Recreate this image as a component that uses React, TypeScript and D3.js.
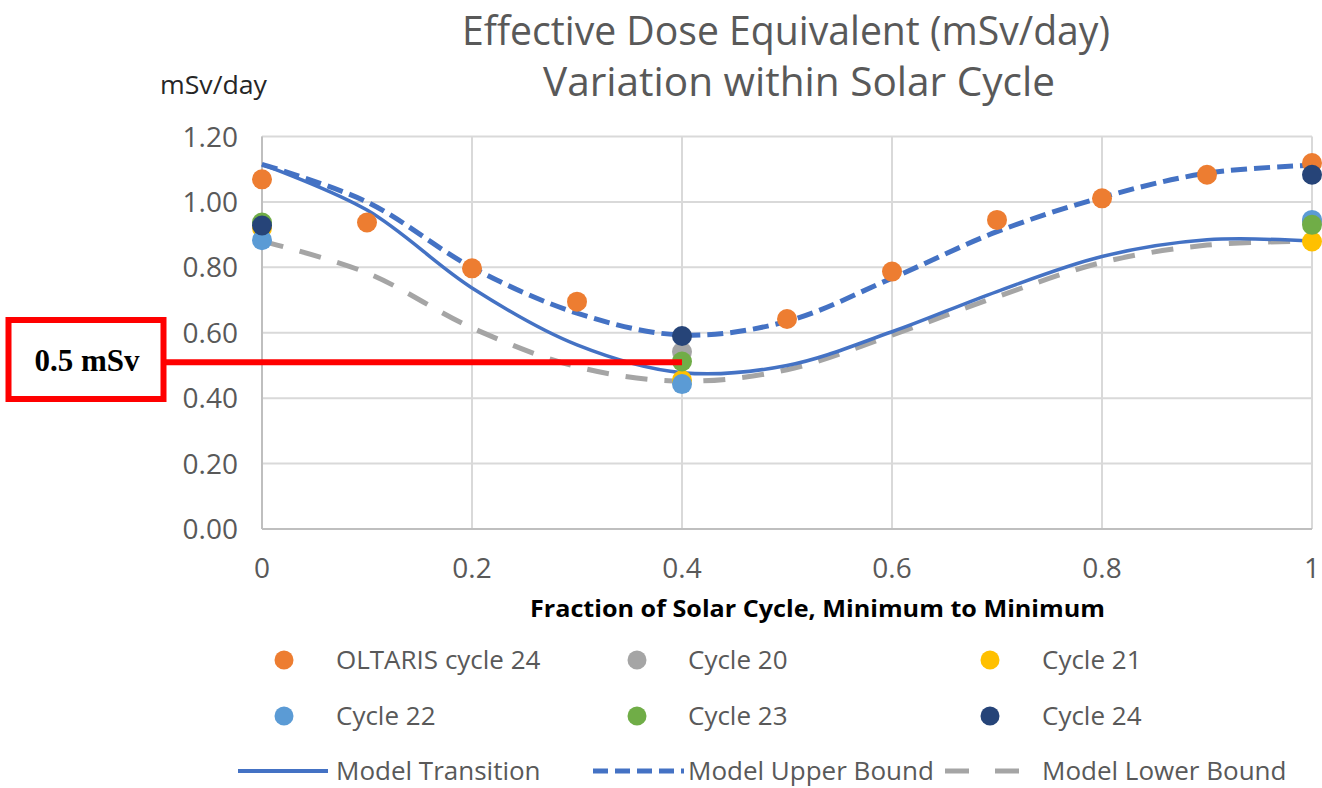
import React from "react";
import * as d3 from "d3";

// ---------- data ----------
const TITLE_1 = "Effective Dose Equivalent (mSv/day)";
const TITLE_2 = "Variation within Solar Cycle";
const Y_UNIT = "mSv/day";
const X_TITLE = "Fraction of Solar Cycle, Minimum to Minimum";

const yTicks = [0, 0.2, 0.4, 0.6, 0.8, 1.0, 1.2];
const xTicks = [0, 0.2, 0.4, 0.6, 0.8, 1];
const xTickLabels = ["0", "0.2", "0.4", "0.6", "0.8", "1"];

// model curves
const modelX = [0, 0.1, 0.2, 0.3, 0.4, 0.5, 0.6, 0.7, 0.8, 0.9, 1.0];
const modelTransition = [1.115, 0.975, 0.737, 0.563, 0.478, 0.5, 0.603, 0.726, 0.833, 0.884, 0.88];
const modelUpper = [1.115, 1.0, 0.8, 0.66, 0.593, 0.635, 0.767, 0.909, 1.014, 1.088, 1.112];
const modelLower = [0.88, 0.783, 0.615, 0.496, 0.452, 0.487, 0.593, 0.71, 0.815, 0.868, 0.88];

// scatter series
const oltarisX = [0, 0.1, 0.2, 0.3, 0.5, 0.6, 0.7, 0.8, 0.9, 1.0];
const oltarisY = [1.069, 0.937, 0.797, 0.695, 0.642, 0.787, 0.945, 1.011, 1.083, 1.119];
const cycleX = [0, 0.4, 1.0];
const cycle20 = [0.93, 0.542, 0.94];
const cycle21 = [0.92, 0.455, 0.879];
const cycle22 = [0.883, 0.443, 0.945];
const cycle23 = [0.937, 0.512, 0.93];
const cycle24 = [0.928, 0.59, 1.083];

// annotation
const annotationLabel = "0.5 mSv";
const annotationX = 0.4;
const annotationY = 0.51;

const COLORS = {
  orange: "#ED7D31",
  gray: "#A5A5A5",
  yellow: "#FFC000",
  lightBlue: "#5B9BD5",
  green: "#70AD47",
  navy: "#264478",
  blue: "#4472C4",
  grayLine: "#A5A5A5",
};

const scatterSeries = [
  { name: "OLTARIS cycle 24", xs: oltarisX, ys: oltarisY, color: COLORS.orange },
  { name: "Cycle 20", xs: cycleX, ys: cycle20, color: COLORS.gray },
  { name: "Cycle 21", xs: cycleX, ys: cycle21, color: COLORS.yellow },
  { name: "Cycle 22", xs: cycleX, ys: cycle22, color: COLORS.lightBlue },
  { name: "Cycle 23", xs: cycleX, ys: cycle23, color: COLORS.green },
  { name: "Cycle 24", xs: cycleX, ys: cycle24, color: COLORS.navy },
];

const lineSeries = [
  { name: "Model Transition", ys: modelTransition, color: COLORS.blue, width: 3.5, dash: "none" },
  { name: "Model Upper Bound", ys: modelUpper, color: COLORS.blue, width: 5, dash: "16,7" },
  { name: "Model Lower Bound", ys: modelLower, color: COLORS.grayLine, width: 5, dash: "22,17" },
];

const FONT = "'Open Sans', 'Noto Sans', sans-serif";
const TXT = "#595959";

export default function App() {
  const x = d3.scaleLinear().domain([0, 1]).range([262, 1312]);
  const y = d3.scaleLinear().domain([0, 1.2]).range([529, 136.5]);

  const line = d3
    .line<number>()
    .x((_, i) => x(modelX[i]))
    .y((d) => y(d))
    .curve(d3.curveCatmullRom.alpha(0.5));

  const gridX = d3.range(0, 1.0001, 0.2);

  // legend layout
  const colX = [284, 637, 990];
  const textX = [336, 688, 1042];
  const rowY = [660, 716, 771];

  // annotation box
  const box = { x: 8.5, y: 320, w: 155, h: 79 };

  return (
    <svg
      width={1322}
      height={788}
      style={{ position: "absolute", left: 0, top: 0, background: "#fff" }}
      fontFamily={FONT}
    >
      <rect x={0} y={0} width={1322} height={788} fill="#fff" />
      {/* Title */}
      <text x={462} y={45} fontSize={41} fill={TXT} textLength={648} lengthAdjust="spacingAndGlyphs">
        {TITLE_1}
      </text>
      <text x={543} y={96} fontSize={41} fill={TXT} textLength={512} lengthAdjust="spacingAndGlyphs">
        {TITLE_2}
      </text>
      <text x={160} y={94} fontSize={26} fill="#262626" textLength={107} lengthAdjust="spacingAndGlyphs">
        {Y_UNIT}
      </text>

      {/* Gridlines */}
      {yTicks.map((t) => (
        <line key={"gy" + t} x1={x(0)} x2={x(1)} y1={y(t)} y2={y(t)} stroke="#D9D9D9" strokeWidth={2} />
      ))}
      {gridX.map((t) => (
        <line key={"gx" + t} x1={x(t)} x2={x(t)} y1={y(0)} y2={y(1.2)} stroke="#D9D9D9" strokeWidth={2} />
      ))}
      <line x1={x(0)} x2={x(1)} y1={y(0)} y2={y(0)} stroke="#BFBFBF" strokeWidth={2} />
      <line x1={x(0)} x2={x(0)} y1={y(0)} y2={y(1.2)} stroke="#BFBFBF" strokeWidth={2} />

      {/* Y tick labels */}
      {yTicks.map((t) => (
        <text key={"yl" + t} x={238} y={y(t) + 10} fontSize={28} fill={TXT} textAnchor="end">
          {t.toFixed(2)}
        </text>
      ))}
      {/* X tick labels */}
      {xTicks.map((t, i) => (
        <text key={"xl" + t} x={x(t)} y={578} fontSize={28} fill={TXT} textAnchor="middle">
          {xTickLabels[i]}
        </text>
      ))}
      <text x={530} y={617} fontSize={23} fontWeight="bold" fill="#000" textLength={575} lengthAdjust="spacingAndGlyphs">
        {X_TITLE}
      </text>

      {/* Model lines */}
      {[lineSeries[2], lineSeries[1], lineSeries[0]].map((s) => (
        <path
          key={s.name}
          d={line(s.ys) || ""}
          fill="none"
          stroke={s.color}
          strokeWidth={s.width}
          strokeDasharray={s.dash}
        />
      ))}

      {/* Scatter points */}
      {scatterSeries.map((s) =>
        s.xs.map((xv, i) => (
          <circle key={s.name + i} cx={x(xv)} cy={y(s.ys[i])} r={10} fill={s.color} />
        ))
      )}

      {/* Annotation */}
      <line
        x1={box.x + box.w}
        x2={x(annotationX)}
        y1={y(annotationY)}
        y2={y(annotationY)}
        stroke="#FF0000"
        strokeWidth={6}
      />
      <rect x={box.x} y={box.y} width={box.w} height={box.h} fill="#fff" stroke="#FF0000" strokeWidth={6} />
      <text
        x={box.x + box.w / 2 + 1}
        y={box.y + box.h / 2 + 11}
        fontSize={31}
        fontWeight="bold"
        fontFamily="'Liberation Serif', 'DejaVu Serif', serif"
        textAnchor="middle"
        fill="#000"
      >
        {annotationLabel}
      </text>

      {/* Legend: scatter */}
      {scatterSeries.map((s, i) => {
        const r = Math.floor(i / 3);
        const c = i % 3;
        return (
          <g key={"lg" + s.name}>
            <circle cx={colX[c]} cy={rowY[r]} r={9.5} fill={s.color} />
            <text x={textX[c]} y={rowY[r] + 9} fontSize={26} fill={TXT}>
              {s.name}
            </text>
          </g>
        );
      })}
      {/* Legend: lines */}
      <line x1={238} x2={328} y1={rowY[2]} y2={rowY[2]} stroke={COLORS.blue} strokeWidth={4} />
      <text x={textX[0]} y={rowY[2] + 9} fontSize={26} fill={TXT}>
        {lineSeries[0].name}
      </text>
      <line x1={593} x2={684} y1={rowY[2]} y2={rowY[2]} stroke={COLORS.blue} strokeWidth={5} strokeDasharray="15,7" />
      <text x={textX[1]} y={rowY[2] + 9} fontSize={26} fill={TXT}>
        {lineSeries[1].name}
      </text>
      <line x1={945} x2={1020} y1={rowY[2]} y2={rowY[2]} stroke={COLORS.grayLine} strokeWidth={5} strokeDasharray="24,26" />
      <text x={textX[2]} y={rowY[2] + 9} fontSize={26} fill={TXT}>
        {lineSeries[2].name}
      </text>
    </svg>
  );
}
